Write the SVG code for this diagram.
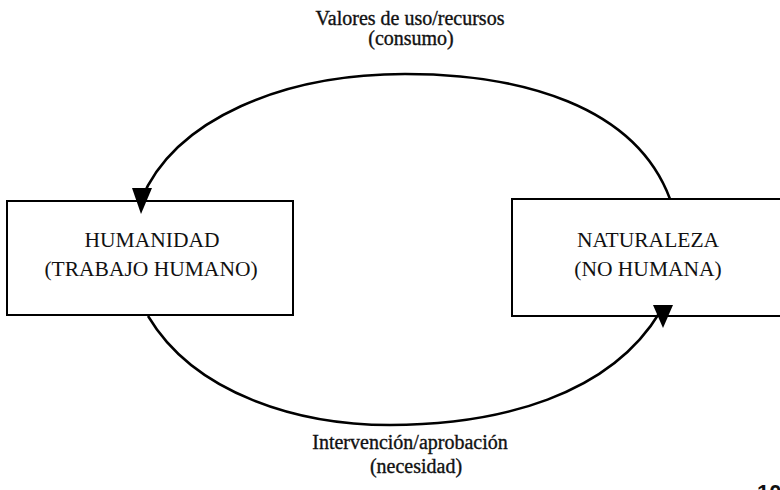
<svg xmlns="http://www.w3.org/2000/svg" width="780" height="490" viewBox="0 0 780 490">
<style>
.box{fill:#fff;stroke:#000;stroke-width:2}
.arc{fill:none;stroke:#000;stroke-width:2.5}
.head{fill:#000}
.lbl{font-family:"Liberation Serif",serif;font-size:21.5px;fill:#111;text-anchor:middle}
.edge{font-family:"Liberation Serif",serif;font-size:20px;fill:#111;stroke:#111;stroke-width:0.35;text-anchor:middle}
</style>
<rect width="780" height="490" fill="#fff"/>
<g id="humanidad">
<rect class="box" x="7" y="201" width="286" height="114"/>
<text class="lbl" x="152" y="247">HUMANIDAD</text>
<text class="lbl" x="151" y="276">(TRABAJO HUMANO)</text>
</g>
<g id="naturaleza">
<rect class="box" x="512" y="199" width="290" height="117"/>
<text class="lbl" x="648" y="247">NATURALEZA</text>
<text class="lbl" x="648" y="276">(NO HUMANA)</text>
</g>
<g id="connectors">
<path class="arc" d="M 670,199 C 635,105 520,74 405,74 C 285,74 175,118 141,200"/>
<polygon class="head" points="132,188 152,188 141,214"/>
<path class="arc" d="M 148,316 C 195,395 300,425 390,425 C 500,425 610,395 660,312"/>
<polygon class="head" points="653,305 673,305 663,328"/>
</g>
<g id="labels">
<text class="edge" x="410" y="25">Valores de uso/recursos</text>
<text class="edge" x="411" y="45">(consumo)</text>
<text class="edge" x="410" y="449">Intervención/aprobación</text>
<text class="edge" x="416" y="473">(necesidad)</text>
<text x="757" y="500" font-family="Liberation Sans,sans-serif" font-weight="bold" font-size="22" fill="#111">10</text>
</g>
</svg>
